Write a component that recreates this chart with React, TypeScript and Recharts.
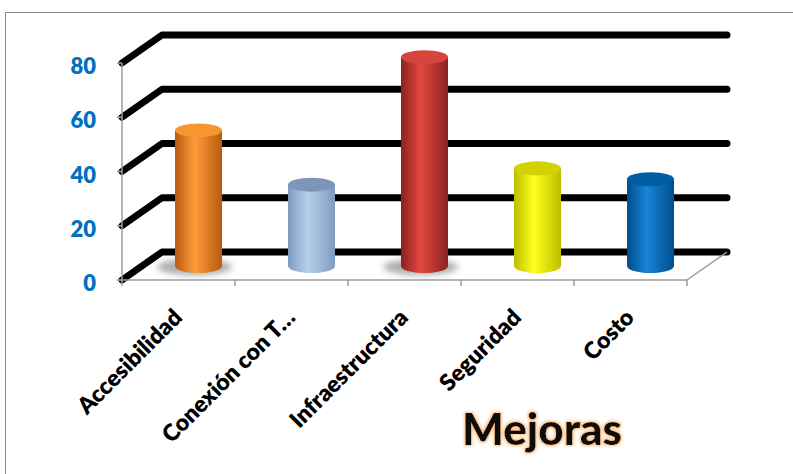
import React from 'react';
import { BarChart, Bar, XAxis, YAxis, CartesianGrid } from 'recharts';

// ---------- data ----------
const categories = ['Accesibilidad', 'Conexión con T…', 'Infraestructura', 'Seguridad', 'Costo'];
const values = [50, 30, 77, 36, 32];
const yTicks = [0, 20, 40, 60, 80];
const chartTitle = 'Mejoras';

// ---------- styles ----------
const palette = [
  { edge: '#B85A10', light: '#FF9C3A', top: '#F7952F', shadow: true },
  { edge: '#7D9BC0', light: '#B8CFEC', top: '#7C95B8', shadow: false },
  { edge: '#8A2220', light: '#E2483F', top: '#D6443C', shadow: true },
  { edge: '#BDBD00', light: '#FFFF1A', top: '#D2D200', shadow: false },
  { edge: '#004E8C', light: '#1684D8', top: '#005FA3', shadow: false },
];

const W = 793;
const H = 474;
const MARGIN = { top: 63, right: 106, bottom: 44, left: 62 };
const Y_AXIS_W = 60;
const X_AXIS_H = 150;
const DX = 40;
const DY = 28;
const FONT = "Lato, 'Open Sans', sans-serif";
const AXIS_GRAY = '#9C9C9C';

const data = categories.map((name, i) => ({ name, value: values[i] }));
const plotW = W - MARGIN.left - MARGIN.right - Y_AXIS_W;
const band = plotW / categories.length;

const Cylinder = (props: any) => {
  const { x, y, width, height, index } = props;
  const c = palette[index % palette.length];
  const rx = width / 2;
  const ry = 7;
  const cx = x + rx + DX / 2;
  const top = y - DY / 2;
  const base = y + height - DY / 2;
  const gid = `cylGrad${index}`;
  return (
    <g>
      <defs>
        <linearGradient id={gid} x1="0" y1="0" x2="1" y2="0">
          <stop offset="0" stopColor={c.edge} />
          <stop offset="0.42" stopColor={c.light} />
          <stop offset="1" stopColor={c.edge} />
        </linearGradient>
      </defs>
      {c.shadow && (
        <ellipse cx={cx - 4} cy={base + 1} rx={rx + 14} ry={ry + 1} fill="#6b6b6b" opacity={0.55} filter="url(#softBlur)" />
      )}
      <path
        d={`M${cx - rx},${top} L${cx - rx},${base} A${rx},${ry} 0 0 0 ${cx + rx},${base} L${cx + rx},${top} Z`}
        fill={`url(#${gid})`}
      />
      <ellipse cx={cx} cy={top} rx={rx} ry={ry} fill={c.top} />
    </g>
  );
};

const gridLine = (p: any) => (
  <path
    key={p.key ?? `g-${p.index}`}
    d={`M${p.x1},${p.y1} L${p.x1 + DX},${p.y1 - DY} L${p.x2 + DX},${p.y2 - DY}`}
    stroke="#000"
    strokeWidth={7}
    fill="none"
    strokeLinecap="round"
    strokeLinejoin="round"
  />
);

const XTick = (props: any) => {
  const { x, y, payload, index } = props;
  const half = band / 2;
  const last = index === categories.length - 1;
  const ax = x + 5;
  const ay = y + 39;
  return (
    <g>
      <line x1={x - half} y1={y} x2={x - half} y2={y + 6} stroke={AXIS_GRAY} strokeWidth={1.5} />
      {last && <line x1={x + half} y1={y} x2={x + half} y2={y + 6} stroke={AXIS_GRAY} strokeWidth={1.5} />}
      {last && <line x1={x + half} y1={y} x2={x + half + DX} y2={y - DY} stroke={AXIS_GRAY} strokeWidth={1.5} />}
      <text
        x={ax}
        y={ay}
        transform={`rotate(-45, ${ax}, ${ay})`}
        textAnchor="end"
        fontFamily={FONT}
        fontWeight={800}
        fontSize={23}
        fill="#000"
      >
        {payload.value}
      </text>
    </g>
  );
};

const YTick = (props: any) => {
  const { x, y, payload } = props;
  return (
    <text x={x} y={y + 11} textAnchor="end" fontFamily={FONT} fontWeight={800} fontSize={22} fill="#0070C0">
      {payload.value}
    </text>
  );
};

export default function App() {
  return (
    <div style={{ position: 'absolute', left: 0, top: 0, width: W, height: H, background: '#fff', overflow: 'hidden' }}>
      <div
        style={{
          position: 'absolute',
          left: 5,
          top: 12,
          width: 820,
          height: 500,
          border: '1px solid #8a8a8a',
          boxSizing: 'border-box',
        }}
      />
      <div style={{ position: 'absolute', left: 0, top: 0 }}>
        <BarChart width={W} height={H} data={data} margin={MARGIN}>
          <defs>
            <filter id="softBlur" x="-50%" y="-200%" width="200%" height="500%">
              <feGaussianBlur stdDeviation="3" />
            </filter>
          </defs>
          <CartesianGrid horizontal={gridLine} vertical={false} />
          <XAxis
            dataKey="name"
            height={X_AXIS_H}
            interval={0}
            tickSize={0}
            tickMargin={0}
            tickLine={false}
            axisLine={{ stroke: AXIS_GRAY, strokeWidth: 1.5 }}
            tick={<XTick />}
          />
          <YAxis
            width={Y_AXIS_W}
            domain={[0, 80]}
            ticks={yTicks}
            interval={0}
            tickSize={5}
            tickMargin={21}
            tickLine={{ stroke: AXIS_GRAY, strokeWidth: 1.5 }}
            axisLine={{ stroke: AXIS_GRAY, strokeWidth: 1.5 }}
            tick={<YTick />}
          />
          <Bar dataKey="value" barSize={47} shape={<Cylinder />} isAnimationActive={false} />
        </BarChart>
      </div>
      <svg width={W} height={H} style={{ position: 'absolute', left: 0, top: 0, pointerEvents: 'none' }}>
        <defs>
          <filter id="titleGlow" x="-20%" y="-50%" width="140%" height="200%">
            <feMorphology in="SourceAlpha" operator="dilate" radius="1" result="dil" />
            <feGaussianBlur in="dil" stdDeviation="1.5" result="blur" />
            <feFlood floodColor="#FBB874" result="col" />
            <feComposite in="col" in2="blur" operator="in" result="glow" />
            <feMerge>
              <feMergeNode in="glow" />
              <feMergeNode in="SourceGraphic" />
            </feMerge>
          </filter>
        </defs>
        <text
          x={542}
          y={445}
          textAnchor="middle"
          fontFamily={FONT}
          fontWeight={900}
          fontSize={44}
          fill="#0d0d0d"
          filter="url(#titleGlow)"
        >
          {chartTitle}
        </text>
      </svg>
    </div>
  );
}
